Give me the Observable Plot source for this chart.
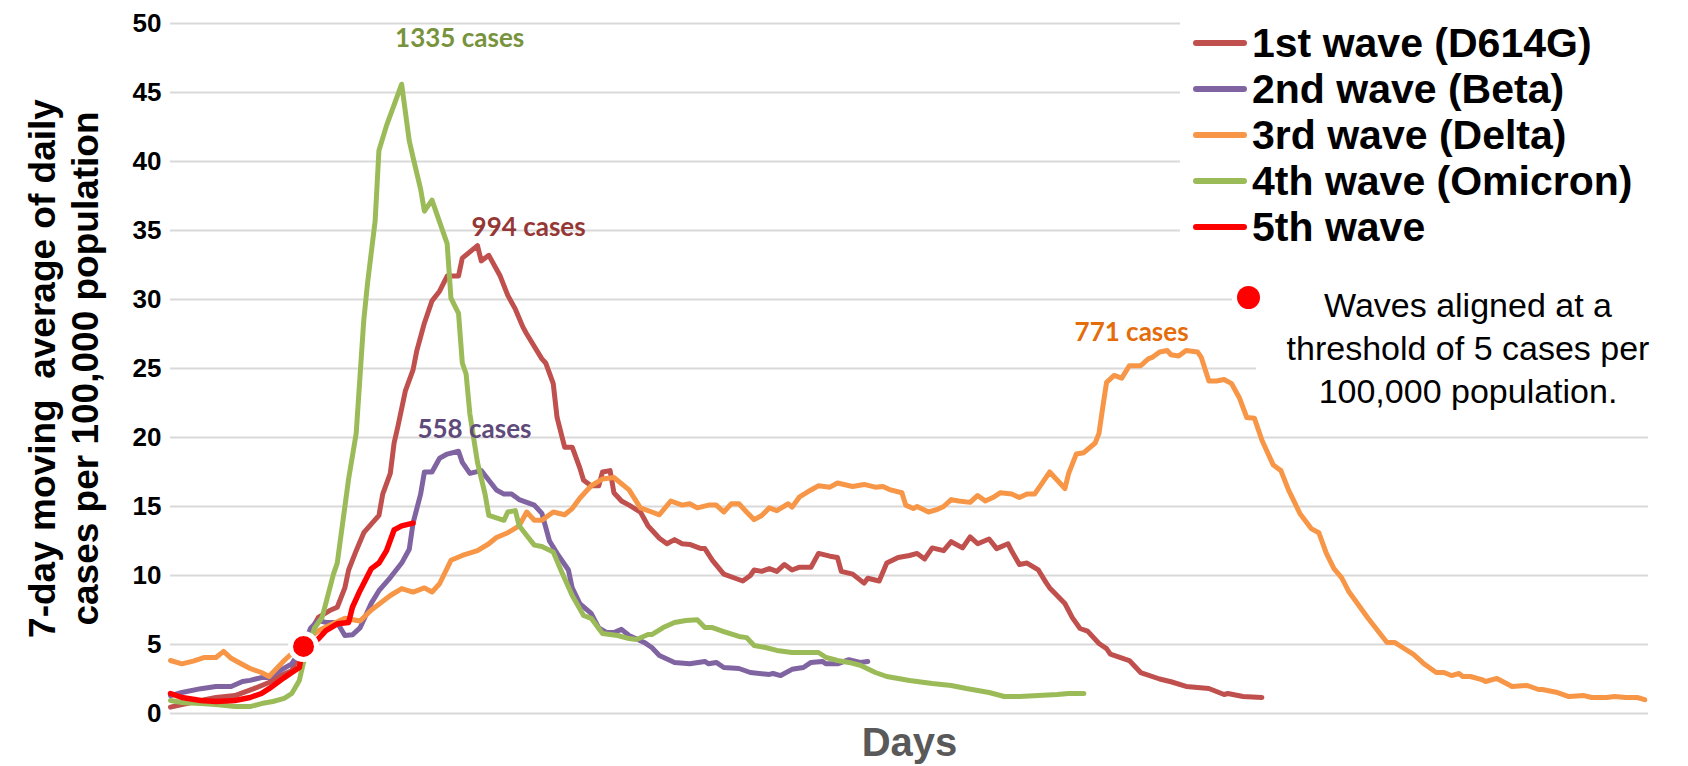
<!DOCTYPE html>
<html><head><meta charset="utf-8">
<script src="https://cdn.jsdelivr.net/npm/d3@7"></script>
<script src="https://cdn.jsdelivr.net/npm/@observablehq/plot@0.6"></script>
<style>
body{margin:0;background:#fff;}
#wrap{position:relative;width:1688px;height:766px;overflow:hidden;font-family:"Liberation Sans",Arial,sans-serif;}
#legend{position:absolute;left:1180px;top:0;width:508px;height:242px;background:#fff;}
.row{position:absolute;left:0;height:46px;width:508px;}
.sw{position:absolute;left:13px;top:20px;width:54px;height:6px;border-radius:3px;}
.lt{position:absolute;left:72px;top:0;line-height:46px;font-weight:bold;font-size:41px;white-space:nowrap;color:#000;}
.box{position:absolute;background:#fff;}
#ndot{position:absolute;left:1236.5px;top:285.5px;width:23px;height:23px;border-radius:50%;background:#FF0000;}
#ntext{position:absolute;left:1268px;top:284px;width:400px;text-align:center;font-size:34px;line-height:43px;color:#000;}
svg g[aria-label="y-axis tick label"] text{font-weight:bold;}
</style>
</head><body>
<div id="wrap"></div>
<script>
const yTicks = [0, 5, 10, 15, 20, 25, 30, 35, 40, 45, 50];
const waveNames = ["1st wave (D614G)", "2nd wave (Beta)", "3rd wave (Delta)", "4th wave (Omicron)", "5th wave"];
const waveColors = ["#C0504D", "#8064A2", "#F79646", "#9BBB59", "#FF0000"];
const yTitle = "7-day moving  average of daily\ncases per 100,000 population";
const xTitle = "Days";
const noteLines = ["Waves aligned at a", "threshold of 5 cases per", "100,000 population."];

// [day, 7-day average cases per 100,000]
const wave1 = [[0,0.46],[3,0.65],[8,0.94],[12,1.16],[17,1.3],[22,1.8],[26,2.25],[29,2.75],[32,3.1],[35,5.0],[39,6.96],[42,7.46],[44,7.7],[46,9.1],[47,10.4],[49,11.8],[51,13.1],[55,14.35],[56,15.9],[58,17.4],[59,19.6],[60,20.8],[62,23.4],[64,24.9],[65,26.3],[67,28.3],[69,29.9],[71,30.6],[73,31.7],[76,31.7],[77,33.0],[81,33.9],[82,32.8],[84,33.2],[87,31.7],[89,30.3],[91,29.3],[93,28.0],[94,27.5],[98,25.7],[99,25.4],[101,23.9],[102,21.45],[104,19.3],[106,19.3],[108,17.8],[109,16.9],[111,16.5],[113,16.5],[114,17.5],[116,17.6],[117,16.0],[119,15.4],[121,15.1],[124,14.6],[126,13.6],[127,13.3],[129,12.7],[131,12.3],[133,12.6],[135,12.3],[137,12.25],[140,11.95],[141,11.95],[143,11.1],[146,10.1],[149,9.8],[151,9.6],[153,10.0],[154,10.4],[156,10.3],[158,10.5],[160,10.3],[162,10.8],[164,10.4],[166,10.6],[169,10.6],[171,11.6],[174,11.4],[176,11.3],[177,10.3],[180,10.1],[183,9.45],[184,9.8],[187,9.6],[189,10.9],[192,11.3],[195,11.45],[197,11.6],[199,11.2],[201,12.0],[204,11.8],[206,12.45],[209,12.0],[211,12.8],[213,12.3],[216,12.65],[218,11.95],[221,12.3],[222,11.75],[224,10.8],[226,10.9],[229,10.4],[231,9.5],[232,9.1],[236,7.97],[238,6.93],[240,6.16],[242,5.97],[245,5.07],[247,4.7],[248,4.3],[253,3.84],[256,2.97],[261,2.5],[264,2.3],[268,1.96],[274,1.81],[278,1.38],[279,1.45],[283,1.23],[288,1.16]];

const wave2 = [[0,1.3],[3,1.52],[8,1.8],[12,1.96],[16,1.96],[19,2.32],[21,2.4],[24,2.6],[26,2.6],[28,2.97],[32,3.6],[35,4.9],[37,6.2],[39,6.74],[41,6.6],[44,6.6],[46,5.65],[48,5.7],[50,6.2],[53,8.0],[55,8.9],[58,9.85],[61,10.9],[63,11.9],[64,13.8],[66,15.9],[67,17.5],[69,17.5],[71,18.5],[73,18.8],[76,19.0],[77,18.2],[79,17.4],[82,17.6],[84,16.9],[86,16.2],[88,15.9],[90,15.9],[92,15.5],[96,15.1],[98,14.5],[99,13.5],[100,12.5],[102,11.6],[105,10.4],[106,9.1],[108,7.97],[111,7.25],[113,6.2],[115,5.87],[117,5.87],[119,6.1],[121,5.65],[125,5.15],[127,4.78],[129,4.2],[133,3.7],[137,3.6],[141,3.77],[142,3.6],[144,3.7],[146,3.33],[150,3.26],[153,2.97],[158,2.83],[159,2.9],[161,2.75],[164,3.2],[167,3.33],[169,3.7],[172,3.77],[173,3.6],[176,3.6],[179,3.9],[182,3.7],[184,3.77]];

const wave3 = [[0,3.84],[3,3.6],[6,3.8],[9,4.06],[12,4.06],[14,4.5],[16,4.0],[19,3.55],[21,3.26],[24,2.97],[26,2.68],[28,3.26],[30,3.84],[33,4.6],[39,6.0],[42,6.4],[46,6.9],[50,6.7],[53,7.5],[58,8.55],[61,9.05],[64,8.8],[67,9.1],[69,8.8],[71,9.4],[74,11.1],[77,11.45],[81,11.8],[84,12.3],[86,12.75],[89,13.1],[92,13.6],[94,14.6],[96,14.0],[98,14.0],[101,14.6],[104,14.4],[106,14.85],[108,15.6],[111,16.5],[114,17.0],[117,17.1],[121,16.2],[124,14.9],[127,14.6],[129,14.4],[132,15.4],[135,15.1],[137,15.2],[139,14.9],[142,15.1],[144,15.1],[146,14.6],[148,15.2],[150,15.2],[152,14.6],[154,14.05],[156,14.35],[158,14.9],[160,14.7],[163,15.2],[164,14.95],[166,15.7],[169,16.2],[171,16.5],[174,16.4],[176,16.7],[180,16.45],[183,16.6],[186,16.4],[188,16.45],[190,16.2],[193,16.0],[194,15.1],[196,14.85],[197,15.0],[200,14.6],[202,14.75],[204,15.0],[206,15.5],[208,15.4],[211,15.3],[213,15.8],[215,15.4],[217,15.65],[219,16.0],[222,15.9],[224,15.65],[226,15.9],[228,15.9],[230,16.7],[232,17.5],[236,16.3],[237,17.4],[239,18.8],[241,18.9],[244,19.6],[245,20.3],[246,22.2],[247,24.0],[249,24.5],[251,24.3],[253,25.2],[256,25.2],[258,25.7],[259,25.8],[261,26.2],[263,26.3],[264,26.0],[266,25.9],[268,26.3],[271,26.2],[272,25.8],[274,24.1],[276,24.1],[278,24.2],[280,23.9],[282,22.9],[284,21.45],[286,21.4],[288,19.8],[291,18.0],[293,17.6],[295,16.2],[296,15.65],[298,14.5],[301,13.4],[303,13.1],[305,11.6],[307,10.5],[309,9.85],[311,8.8],[316,6.9],[321,5.15],[323,5.15],[325,4.8],[328,4.28],[331,3.55],[334,2.97],[336,2.97],[338,2.75],[340,2.9],[341,2.68],[343,2.68],[346,2.46],[347,2.32],[350,2.54],[354,1.96],[358,2.03],[361,1.74],[362,1.74],[366,1.52],[369,1.23],[373,1.3],[375,1.16],[379,1.16],[381,1.23],[384,1.16],[387,1.16],[389,1.0]];

const wave4 = [[0,0.94],[3,0.8],[8,0.72],[12,0.65],[17,0.5],[21,0.5],[24,0.72],[27,0.87],[30,1.09],[32,1.45],[34,2.4],[35,3.6],[38,6.2],[40,6.96],[41,8.0],[43,10.1],[44,10.9],[47,17.0],[49,20.3],[51,28.5],[52,31.2],[54,35.7],[55,40.8],[57,42.6],[61,45.6],[63,41.5],[64,40.3],[66,38.0],[67,36.4],[69,37.2],[73,34.05],[74,30.1],[76,29.0],[77,25.4],[78,24.6],[79,21.7],[81,18.2],[83,15.9],[84,14.35],[88,14.0],[89,14.6],[91,14.7],[92,13.6],[94,12.9],[96,12.2],[98,12.1],[101,11.7],[103,10.4],[106,8.55],[109,7.1],[111,6.9],[114,5.8],[118,5.65],[121,5.43],[123,5.36],[126,5.72],[127,5.72],[130,6.23],[133,6.6],[136,6.74],[139,6.8],[141,6.23],[143,6.23],[146,5.94],[150,5.58],[152,5.5],[154,4.93],[157,4.78],[160,4.57],[164,4.42],[167,4.42],[171,4.42],[173,4.06],[176,3.84],[179,3.7],[182,3.5],[186,2.97],[189,2.68],[195,2.39],[201,2.17],[206,2.03],[210,1.81],[216,1.52],[220,1.23],[224,1.23],[229,1.3],[234,1.38],[237,1.45],[241,1.45]];

const wave5 = [[0,1.45],[3,1.16],[8,0.94],[12,0.87],[17,0.94],[21,1.16],[24,1.45],[26,1.8],[30,2.6],[32,2.97],[34,3.33],[35,4.85],[39,5.4],[41,6.0],[44,6.5],[47,6.6],[48,7.7],[50,8.9],[53,10.5],[55,10.9],[57,11.8],[59,13.3],[61,13.6],[64,13.8]];

const threshold = {day: 35.1, value: 4.86};

const peakLabels = [
  {label: "1335 cases", day: 76.3, value: 48.9, color: "#77933C"},
  {label: "994 cases", day: 94.5, value: 35.2, color: "#953735"},
  {label: "558 cases", day: 80.2, value: 20.6, color: "#604A7B"},
  {label: "771 cases", day: 253.6, value: 27.6, color: "#E46C0A"}
];

const waves = [wave1, wave2, wave3, wave4, wave5];
const widths = [5, 5, 5, 5, 5.5];

const lineMarks = waves.map((w, i) => Plot.line(w, {
  x: d => d[0], y: d => d[1], stroke: waveColors[i], strokeWidth: widths[i],
  strokeLinejoin: "round", strokeLinecap: "round"
}));

const chart = Plot.plot({
  width: 1688, height: 766,
  marginLeft: 170, marginRight: 40, marginTop: 23, marginBottom: 53,
  x: {domain: [0, 390], axis: null},
  y: {domain: [0, 50], axis: null},
  style: {fontFamily: '"Liberation Sans", Arial, sans-serif', background: "#fff", color: "#000", overflow: "visible"},
  marks: [
    Plot.gridY(yTicks, {stroke: "#D9D9D9", strokeOpacity: 1, strokeWidth: 2}),
    Plot.axisY(yTicks, {tickSize: 0, tickPadding: 9, fontSize: 26, fontWeight: "bold", fill: "#000", label: null}),
    ...lineMarks,
    Plot.dot([threshold], {x: "day", y: "value", r: 13, fill: "#FF0000", stroke: "#fff", strokeWidth: 5}),
    Plot.text(peakLabels, {x: "day", y: "value", text: "label", fill: "color", fontSize: 26, fontWeight: "bold", fontFamily: "Lato, sans-serif"}),
    Plot.text([xTitle], {frameAnchor: "bottom", dy: 30, textAnchor: "middle", lineAnchor: "middle", fontSize: 40, fontWeight: "bold", fill: "#595959"}),
    Plot.text([yTitle], {frameAnchor: "left", rotate: -90, dx: -107.5, textAnchor: "middle", lineAnchor: "middle", fontSize: 37, fontWeight: "bold", lineHeight: 1.17, fill: "#000"})
  ]
});

const wrap = document.getElementById("wrap");
wrap.appendChild(chart);

// legend
const legend = document.createElement("div");
legend.id = "legend";
waveNames.forEach((name, i) => {
  const row = document.createElement("div");
  row.className = "row";
  row.style.top = (20 + 46 * i) + "px";
  const sw = document.createElement("div");
  sw.className = "sw"; sw.style.background = waveColors[i];
  const t = document.createElement("div");
  t.className = "lt"; t.textContent = name;
  row.appendChild(sw); row.appendChild(t);
  legend.appendChild(row);
});
wrap.appendChild(legend);

// threshold note
const b1 = document.createElement("div"); b1.className = "box";
Object.assign(b1.style, {left: "1232px", top: "282px", width: "456px", height: "48px"});
const b2 = document.createElement("div"); b2.className = "box";
Object.assign(b2.style, {left: "1256px", top: "330px", width: "432px", height: "50px"});
wrap.appendChild(b1); wrap.appendChild(b2);
const nd = document.createElement("div"); nd.id = "ndot"; wrap.appendChild(nd);
const nt = document.createElement("div"); nt.id = "ntext";
nt.innerHTML = noteLines.map(s => `<div>${s}</div>`).join("");
wrap.appendChild(nt);
</script>
</body></html>
